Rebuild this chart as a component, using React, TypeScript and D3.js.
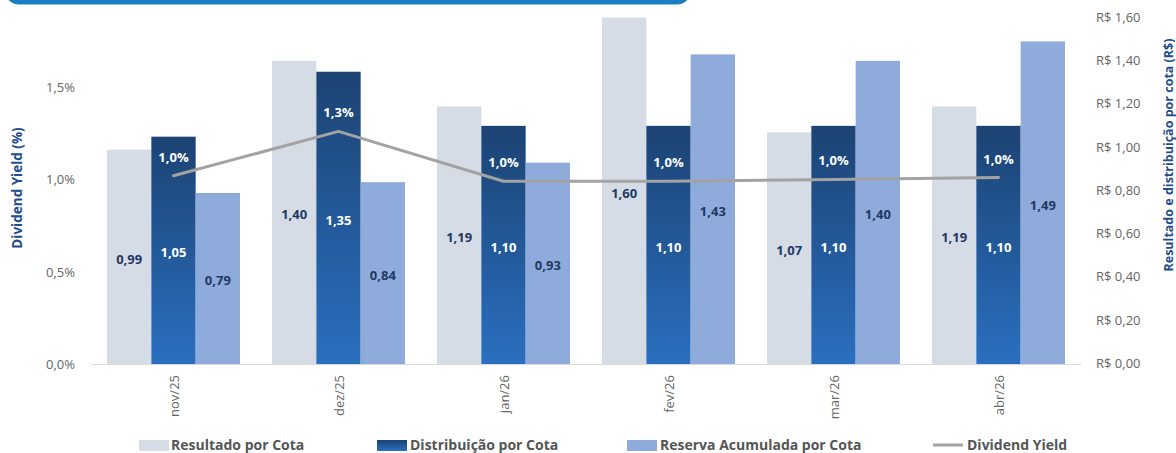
import React from "react";
import * as d3 from "d3";

const categories = ["nov/25", "dez/25", "jan/26", "fev/26", "mar/26", "abr/26"];
const resultado = [0.99, 1.4, 1.19, 1.6, 1.07, 1.19];
const distribuicao = [1.05, 1.35, 1.1, 1.1, 1.1, 1.1];
const reserva = [0.79, 0.84, 0.93, 1.43, 1.4, 1.49];
const dividendYield = [1.02, 1.26, 0.99, 0.99, 1.0, 1.01];
const rightTicks = [0, 0.2, 0.4, 0.6, 0.8, 1.0, 1.2, 1.4, 1.6];
const leftTicks = [0, 0.5, 1.0, 1.5];
const seriesNames = ["Resultado por Cota", "Distribuição por Cota", "Reserva Acumulada por Cota", "Dividend Yield"];

const W = 1176;
const H = 453;
const FONT = "'Open Sans', 'DejaVu Sans', sans-serif";
const plot = { left: 91, right: 1081, top: 17.6, bottom: 364 };

const fmt = (v: number, d: number) => v.toFixed(d).replace(".", ",");

export default function App() {
  const x = d3
    .scaleBand<string>()
    .domain(categories)
    .range([plot.left, plot.right])
    .paddingInner(0.194)
    .paddingOuter(0.097);
  const keys = ["res", "dist", "resv"];
  const xs = d3.scaleBand<string>().domain(keys).range([0, x.bandwidth()]).padding(0);
  const yR = d3.scaleLinear().domain([0, 1.6]).range([plot.bottom, plot.top]);
  const yL = d3.scaleLinear().domain([0, (plot.bottom - plot.top) / 184.6]).range([plot.bottom, plot.top]);

  const line = d3
    .line<number>()
    .x((_, i) => (x(categories[i]) as number) + x.bandwidth() / 2)
    .y((d) => yL(d));

  const navy = "#1f3864";
  const colRes = "#d5dce6";
  const colResv = "#8fabdc";

  const legendItems = [
    { x: 139, tx: 171, kind: "rect", fill: colRes, label: seriesNames[0] },
    { x: 377, tx: 410, kind: "rect", fill: "url(#legGrad)", label: seriesNames[1] },
    { x: 627, tx: 660, kind: "rect", fill: colResv, label: seriesNames[2] },
    { x: 933, tx: 967, kind: "line", fill: "#a3a3a3", label: seriesNames[3] },
  ];

  return (
    <svg width={W} height={H} style={{ position: "absolute", left: 0, top: 0, display: "block" }} fontFamily={FONT}>
      <defs>
        <linearGradient id="distGrad" x1="0" y1="0" x2="0" y2="1">
          <stop offset="0%" stopColor="#1c4373" />
          <stop offset="100%" stopColor="#2a6fbf" />
        </linearGradient>
        <linearGradient id="legGrad" x1="0" y1="0" x2="0" y2="1">
          <stop offset="0%" stopColor="#1c4373" />
          <stop offset="100%" stopColor="#2a6fbf" />
        </linearGradient>
      </defs>
      <rect x={0} y={0} width={W} height={H} fill="#ffffff" />
      {/* top banner */}
      <rect x={5} y={-40} width={686} height={44.5} rx={14} fill="#1a7fc1" />

      {/* bars */}
      {categories.map((c, i) => {
        const gx = x(c) as number;
        const bars = [
          { k: "res", v: resultado[i], fill: colRes, tc: navy },
          { k: "dist", v: distribuicao[i], fill: "url(#distGrad)", tc: "#ffffff" },
          { k: "resv", v: reserva[i], fill: colResv, tc: navy },
        ];
        return (
          <g key={c}>
            {bars.map((b) => {
              const bx = gx + (xs(b.k) as number);
              const y0 = yR(b.v);
              return (
                <g key={b.k}>
                  <rect x={bx} y={y0} width={xs.bandwidth()} height={plot.bottom - y0} fill={b.fill} />
                  <text
                    x={bx + xs.bandwidth() / 2}
                    y={(y0 + plot.bottom) / 2 + 2}
                    textAnchor="middle"
                    dominantBaseline="central"
                    fontSize={13}
                    fontWeight={700}
                    fill={b.tc}
                  >
                    {fmt(b.v, 2)}
                  </text>
                </g>
              );
            })}
          </g>
        );
      })}

      {/* axis line */}
      <line x1={plot.left} x2={plot.right} y1={plot.bottom + 0.5} y2={plot.bottom + 0.5} stroke="#d9d9d9" strokeWidth={1} />

      {/* dividend yield line */}
      <path d={line(dividendYield) || ""} fill="none" stroke="#a3a3a3" strokeWidth={3} strokeLinejoin="round" strokeLinecap="round" />
      {dividendYield.map((v, i) => (
        <text
          key={"dy" + i}
          x={(x(categories[i]) as number) + x.bandwidth() / 2}
          y={yL(v) - 19}
          textAnchor="middle"
          dominantBaseline="central"
          fontSize={13}
          fontWeight={700}
          fill="#ffffff"
        >
          {fmt(v, 1) + "%"}
        </text>
      ))}

      {/* left axis */}
      {leftTicks.map((t) => (
        <text key={"l" + t} x={75} y={yL(t)} textAnchor="end" dominantBaseline="central" fontSize={13} fill="#666666">
          {fmt(t, 1) + "%"}
        </text>
      ))}
      <text
        transform={`translate(17,188) rotate(-90)`}
        textAnchor="middle"
        dominantBaseline="central"
        fontSize={13.5}
        fontWeight={700}
        fill="#1f4e8c"
      >
        Dividend Yield (%)
      </text>

      {/* right axis */}
      {rightTicks.map((t) => (
        <text key={"r" + t} x={1096} y={yR(t) - 1} textAnchor="start" dominantBaseline="central" fontSize={13} fill="#666666">
          {"R$ " + fmt(t, 2)}
        </text>
      ))}
      <text
        transform={`translate(1168,155) rotate(-90)`}
        textAnchor="middle"
        dominantBaseline="central"
        fontSize={12.5}
        fontWeight={700}
        fill="#1f4e8c"
      >
        Resultado e distribuição por cota (R$)
      </text>

      {/* x tick labels */}
      {categories.map((c) => (
        <text
          key={"x" + c}
          transform={`translate(${(x(c) as number) + x.bandwidth() / 2},375) rotate(-90)`}
          textAnchor="end"
          dominantBaseline="central"
          fontSize={13}
          fill="#666666"
        >
          {c}
        </text>
      ))}

      {/* legend */}
      {legendItems.map((it) => (
        <g key={it.label}>
          {it.kind === "rect" ? (
            <rect x={it.x} y={440} width={30} height={11} fill={it.fill} />
          ) : (
            <line x1={it.x} x2={it.x + 30} y1={445} y2={445} stroke={it.fill} strokeWidth={3} />
          )}
          <text x={it.tx} y={444.5} dominantBaseline="central" fontSize={14} fontWeight={700} fill="#555555">
            {it.label}
          </text>
        </g>
      ))}
    </svg>
  );
}
